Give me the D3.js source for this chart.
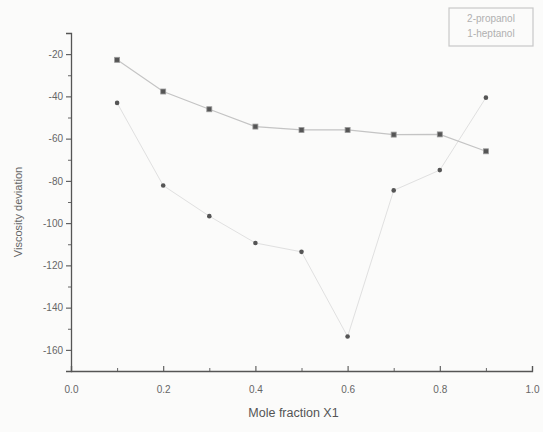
<!DOCTYPE html>
<html lang="en">
<head>
    <meta charset="UTF-8">
    <title>Viscosity deviation</title>
    <script src="https://cdn.jsdelivr.net/npm/d3@7"></script>
    <style>
        body{
            margin: 0;
            background: #fbfbfa;
        }
        text{
            font-family: "Liberation Sans", Arial, sans-serif;
        }
    </style>
</head>
<body>
    <svg width="543" height="432"></svg>
    <script>
        // values
        var moleFraction = [0.1, 0.2, 0.3, 0.4, 0.5, 0.6, 0.7, 0.8, 0.9];
        var propanol = [-22.7, -37.7, -46.1, -54.3, -55.9, -55.9, -58.1, -58.0, -66.0];
        var heptanol = [-43.1, -82.2, -96.7, -109.4, -113.6, -153.7, -84.5, -74.9, -40.6];
        var seriesNames = ["2-propanol", "1-heptanol"];
        var xTicks = [0, 0.2, 0.4, 0.6, 0.8, 1.0];
        var yTicks = [-20, -40, -60, -80, -100, -120, -140, -160];

        var svg = d3.select("svg"),
            margin = {top: 33, right: 11, bottom: 61, left: 71},
            width = +svg.attr("width") - margin.left - margin.right,
            height = +svg.attr("height") - margin.top - margin.bottom;

        var x = d3.scaleLinear().domain([0, 1]).range([0, width]);
        var y = d3.scaleLinear().domain([-170, -10]).range([height, 0]);

        var g = svg.append("g")
            .attr("transform", "translate(" + margin.left + "," + margin.top + ")");

        // minor ticks
        g.append("g")
            .attr("transform", "translate(0," + height + ")")
            .call(d3.axisBottom(x).tickValues(d3.range(0.1, 1, 0.2)).tickSize(-3).tickFormat(""))
            .call(function (a) { a.select(".domain").remove(); })
            .selectAll("line").attr("stroke", "#666");
        g.append("g")
            .call(d3.axisLeft(y).tickValues(d3.range(-170, -10, 20)).tickSize(3).tickFormat(""))
            .call(function (a) { a.select(".domain").remove(); })
            .selectAll("line").attr("stroke", "#666");

        var xAxis = g.append("g")
            .attr("transform", "translate(0," + height + ")")
            .call(d3.axisBottom(x).tickValues(xTicks).tickSize(-5).tickPadding(15).tickFormat(d3.format(".1f")));
        var yAxis = g.append("g")
            .call(d3.axisLeft(y).tickValues(yTicks).tickSize(5).tickPadding(3)
                .tickFormat(function (d) { return String(d); }));

        [xAxis, yAxis].forEach(function (a) {
            a.select(".domain").attr("stroke", "#555").attr("stroke-width", 1.3);
            a.selectAll(".tick line").attr("stroke", "#555").attr("stroke-width", 1.1);
            a.selectAll(".tick text").attr("fill", "#666").attr("font-size", 10);
        });

        // axis titles
        svg.append("text")
            .attr("x", margin.left + width / 2 - 8)
            .attr("y", 417)
            .attr("text-anchor", "middle")
            .attr("fill", "#555")
            .attr("font-size", 12.5)
            .text("Mole fraction X1");
        svg.append("text")
            .attr("transform", "translate(22," + (margin.top + height / 2 + 10) + ") rotate(-90)")
            .attr("text-anchor", "middle")
            .attr("fill", "#666")
            .attr("font-size", 11)
            .text("Viscosity deviation");

        var line = d3.line()
            .x(function (d) { return x(d[0]); })
            .y(function (d) { return y(d[1]); });

        var propData = moleFraction.map(function (m, i) { return [m, propanol[i]]; });
        var heptData = moleFraction.map(function (m, i) { return [m, heptanol[i]]; });

        g.append("path")
            .datum(heptData)
            .attr("fill", "none")
            .attr("stroke", "#e0e0e0")
            .attr("stroke-width", 1)
            .attr("d", line);

        g.append("path")
            .datum(propData)
            .attr("fill", "none")
            .attr("stroke", "#c4c4c4")
            .attr("stroke-width", 1.2)
            .attr("d", line);

        g.selectAll(".sq")
            .data(propData)
            .enter().append("rect")
            .attr("class", "sq")
            .attr("x", function (d) { return x(d[0]) - 2.5; })
            .attr("y", function (d) { return y(d[1]) - 2.5; })
            .attr("width", 5)
            .attr("height", 5)
            .attr("fill", "#555")
            .attr("stroke", "#999")
            .attr("stroke-width", 0.8);

        g.selectAll(".dot")
            .data(heptData)
            .enter().append("circle")
            .attr("class", "dot")
            .attr("cx", function (d) { return x(d[0]); })
            .attr("cy", function (d) { return y(d[1]); })
            .attr("r", 2.3)
            .attr("fill", "#555");

        // legend
        var legend = svg.append("g");
        legend.append("rect")
            .attr("x", 449)
            .attr("y", 8)
            .attr("width", 84)
            .attr("height", 38)
            .attr("fill", "none")
            .attr("stroke", "#c8c8c8")
            .attr("stroke-width", 1.2);
        legend.selectAll("text")
            .data(seriesNames)
            .enter().append("text")
            .attr("x", 491)
            .attr("y", function (d, i) { return 22 + i * 15; })
            .attr("text-anchor", "middle")
            .attr("fill", "#b0b0b0")
            .attr("font-size", 10)
            .text(function (d) { return d; });
    </script>
</body>
</html>
